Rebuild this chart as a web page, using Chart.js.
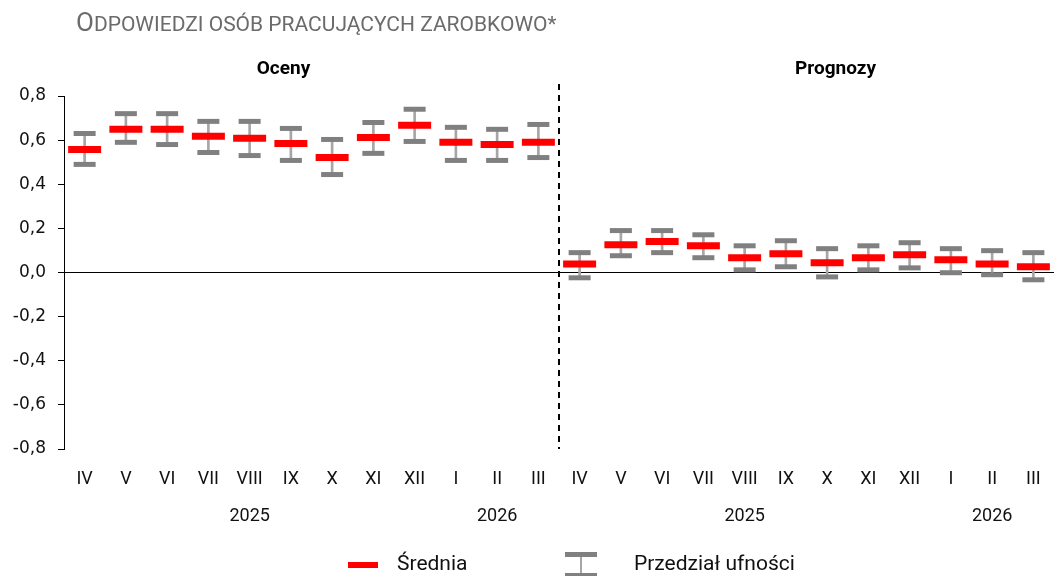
<!DOCTYPE html>
<html lang="pl">
<head>
<meta charset="utf-8">
<script src="https://cdn.jsdelivr.net/npm/chart.js@4"></script>
<style>
  html, body { margin: 0; background: #fff; overflow: hidden; }
</style>
</head>
<body>
<canvas id="wykres" width="1054" height="576"></canvas>
<script>
// Miesiące i lata na osi X (dwie części: oceny i prognozy)
const miesiace = ["IV", "V", "VI", "VII", "VIII", "IX", "X", "XI", "XII", "I", "II", "III"];
const lata = ["", "", "", "", "2025", "", "", "", "", "", "2026", ""];
const naglowki = ["Oceny", "Prognozy"];
const tytul = ["O", "DPOWIEDZI OSÓB PRACUJĄCYCH ZAROBKOWO*"];

// Średnia (12 ocen + 12 prognoz)
const srednia = [0.558, 0.649, 0.649, 0.617, 0.608, 0.585, 0.521, 0.612, 0.667, 0.590, 0.580, 0.590,
                 0.039, 0.126, 0.140, 0.121, 0.067, 0.085, 0.044, 0.067, 0.080, 0.058, 0.039, 0.026];
// Przedział ufności - górna i dolna granica
const gorna = [0.630, 0.720, 0.720, 0.685, 0.685, 0.653, 0.603, 0.680, 0.740, 0.658, 0.649, 0.671,
               0.090, 0.190, 0.190, 0.171, 0.121, 0.144, 0.108, 0.121, 0.135, 0.108, 0.099, 0.090];
const dolna = [0.490, 0.590, 0.580, 0.544, 0.530, 0.508, 0.444, 0.540, 0.594, 0.508, 0.508, 0.521,
               -0.024, 0.076, 0.090, 0.067, 0.012, 0.026, -0.020, 0.012, 0.021, -0.001, -0.010, -0.033];

// Etykiety osi X: miesiąc, a pod wybranymi rok
const etykiety = [];
for (let k = 0; k < 2; k++) {
  miesiace.forEach((m, i) => {
    etykiety.push(lata[i] ? [m, "", lata[i]] : m);
  });
}

const przedzialy = dolna.map((d, i) => [d, gorna[i]]);

function liczba(v) {
  if (Math.abs(v) < 1e-9) v = 0;
  return v.toFixed(1).replace(".", ",");
}

// Tytuł, linia podziału, nagłówki i legenda
const dodatki = {
  id: "dodatki",
  afterDraw(chart) {
    const ctx = chart.ctx;
    const x = chart.scales.x;
    const obszar = chart.chartArea;
    const podzial = (x.getPixelForValue(11) + x.getPixelForValue(12)) / 2;

    ctx.save();
    // tytuł (kapitaliki)
    ctx.fillStyle = "#6b6b6b";
    ctx.textBaseline = "alphabetic";
    ctx.textAlign = "left";
    ctx.font = "26px Roboto";
    ctx.fillText(tytul[0], 76, 31);
    const w = ctx.measureText(tytul[0]).width;
    ctx.font = "21px Roboto";
    ctx.fillText(tytul[1], 76 + w, 31);

    ctx.strokeStyle = "#000";
    ctx.lineWidth = 2;
    ctx.setLineDash([6, 5]);
    ctx.beginPath();
    ctx.moveTo(podzial, obszar.top - 12);
    ctx.lineTo(podzial, obszar.bottom);
    ctx.stroke();
    ctx.setLineDash([]);

    ctx.fillStyle = "#000";
    ctx.font = "bold 19px Roboto";
    ctx.textAlign = "center";
    ctx.textBaseline = "middle";
    ctx.fillText(naglowki[0], (obszar.left + podzial) / 2 - 28, 69);
    ctx.fillText(naglowki[1], (podzial + obszar.right) / 2 + 29, 69);

    // legenda
    const ly = 565;
    ctx.fillStyle = "#ff0000";
    ctx.fillRect(348, ly - 3, 30, 6);
    ctx.fillStyle = "#808080";
    ctx.fillRect(565, ly - 13, 32, 5);
    ctx.fillRect(565, ly + 8, 32, 5);
    ctx.fillStyle = "#a6a6a6";
    ctx.fillRect(580, ly - 8, 2, 16);
    ctx.fillStyle = "#111";
    ctx.font = "21px Roboto";
    ctx.textAlign = "left";
    ctx.fillText("Średnia", 397, ly);
    ctx.fillText("Przedział ufności", 634, ly);
    ctx.restore();
  }
};

new Chart(document.getElementById("wykres"), {
  type: "bar",
  data: {
    labels: etykiety,
    datasets: [
      {
        label: "Średnia",
        type: "line",
        data: srednia,
        showLine: false,
        pointStyle: "line",
        pointRadius: 16.5,
        pointBorderWidth: 7,
        borderColor: "#ff0000",
        backgroundColor: "#ff0000",
        order: 1
      },
      {
        label: "Górna granica",
        type: "line",
        data: gorna,
        showLine: false,
        pointStyle: "line",
        pointRadius: 11,
        pointBorderWidth: 5,
        borderColor: "#808080",
        order: 2
      },
      {
        label: "Dolna granica",
        type: "line",
        data: dolna,
        showLine: false,
        pointStyle: "line",
        pointRadius: 11,
        pointBorderWidth: 5,
        borderColor: "#808080",
        order: 2
      },
      {
        label: "Przedział ufności",
        data: przedzialy,
        backgroundColor: "#a6a6a6",
        barThickness: 2,
        order: 3
      }
    ]
  },
  options: {
    responsive: false,
    animation: false,
    events: [],
    layout: { autoPadding: false, padding: { top: 96, right: 0, bottom: 0, left: 0 } },
    plugins: {
      legend: { display: false },
      tooltip: { enabled: false }
    },
    scales: {
      x: {
        grid: { display: false },
        border: { display: false },
        afterFit(s) { s.height = 127; },
        ticks: {
          autoSkip: false,
          maxRotation: 0,
          padding: 13,
          color: "#111",
          font: { family: "Roboto", size: 18, lineHeight: "18.5px" }
        }
      },
      y: {
        min: -0.8,
        max: 0.8,
        afterFit(s) { s.width = 64; },
        border: { color: "#000", width: 1 },
        grid: {
          color: c => (c.tick && Math.abs(c.tick.value) < 1e-9 ? "#000" : "rgba(0,0,0,0)"),
          tickColor: "#000",
          tickLength: 6
        },
        ticks: {
          stepSize: 0.2,
          padding: 12,
          color: "#111",
          font: { family: "DejaVu Sans", size: 17 },
          callback: v => liczba(v)
        }
      }
    }
  },
  plugins: [dodatki]
});
</script>
</body>
</html>
